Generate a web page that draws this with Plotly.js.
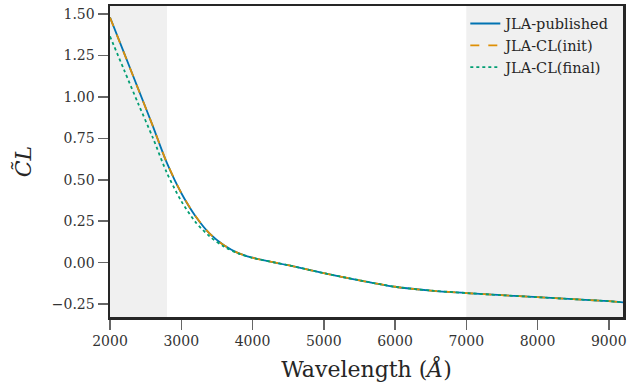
<!DOCTYPE html>
<html>
<head>
<meta charset="utf-8">
<script src="https://cdn.plot.ly/plotly-3.0.1.min.js"></script>
<style>html,body{margin:0;padding:0;background:#fff;}#chart{width:644px;height:387px;}</style>
</head>
<body>
<div id="chart"></div>
<script>
const wavelength = [2000, 2200, 2400, 2600, 2800, 3000, 3200, 3400, 3600, 3800, 4000, 4500, 5000, 5500, 6000, 6500, 7000, 7500, 8000, 8500, 9000, 9200];
const jlaPublished = [1.48, 1.262, 1.044, 0.825, 0.60, 0.42, 0.28, 0.175, 0.105, 0.058, 0.030, -0.015, -0.063, -0.106, -0.145, -0.168, -0.183, -0.196, -0.208, -0.220, -0.232, -0.239];
const jlaClInit = [1.478, 1.261, 1.043, 0.825, 0.601, 0.421, 0.281, 0.175, 0.105, 0.058, 0.030, -0.015, -0.063, -0.106, -0.145, -0.168, -0.183, -0.196, -0.208, -0.220, -0.232, -0.239];
const jlaClFinal = [1.365, 1.16, 0.955, 0.755, 0.54, 0.372, 0.245, 0.158, 0.097, 0.056, 0.029, -0.015, -0.063, -0.106, -0.145, -0.168, -0.183, -0.196, -0.208, -0.220, -0.232, -0.239];
const seriesNames = ['JLA-published', 'JLA-CL(init)', 'JLA-CL(final)'];
const shadedRanges = [[2000, 2800], [7000, 9200]];
const xTicks = [2000, 3000, 4000, 5000, 6000, 7000, 8000, 9000];
const yTicks = [-0.25, 0, 0.25, 0.5, 0.75, 1.0, 1.25, 1.5];

const serif = 'DejaVu Serif, serif';
const traces = [
  {x: wavelength, y: jlaPublished, name: seriesNames[0], mode: 'lines', line: {color: '#0173b2', width: 1.8, shape: 'spline', smoothing: 0.8}},
  {x: wavelength, y: jlaClInit, name: seriesNames[1], mode: 'lines', line: {color: '#de8f05', width: 1.8, dash: 'dash', shape: 'spline', smoothing: 0.8}},
  {x: wavelength, y: jlaClFinal, name: seriesNames[2], mode: 'lines', line: {color: '#029e73', width: 1.8, dash: 'dot', shape: 'spline', smoothing: 0.8}}
];
const shapes = shadedRanges.map(r => ({type: 'rect', xref: 'x', yref: 'paper', x0: r[0], x1: r[1], y0: 0, y1: 1, fillcolor: '#f0f0f0', line: {width: 0}, layer: 'below'}));
const layout = {
  width: 644, height: 387,
  margin: {l: 110, r: 21, t: 6, b: 70},
  paper_bgcolor: '#fff', plot_bgcolor: '#fff',
  font: {family: serif, color: '#262626', size: 14},
  showlegend: true,
  legend: {x: 0.985, y: 0.995, xanchor: 'right', yanchor: 'top', bgcolor: 'rgba(0,0,0,0)', font: {family: serif, size: 14.5, color: '#262626'}, tracegroupgap: 0},
  shapes: shapes,
  xaxis: {
    range: [2000, 9200], tickvals: xTicks, ticktext: xTicks.map(String),
    showgrid: false, zeroline: false, showline: true, linecolor: '#262626', linewidth: 2.5, mirror: true,
    ticks: 'outside', ticklen: 10, tickwidth: 1.5, tickcolor: '#666',
    tickfont: {family: serif, size: 14, color: '#333'},
    title: {text: 'Wavelength (<i>Å</i>)', font: {family: serif, size: 22, color: '#262626'}, standoff: 14}
  },
  yaxis: {
    range: [-0.3275, 1.548], tickvals: yTicks, ticktext: yTicks.map(v => v.toFixed(2).replace('-', '−')),
    showgrid: false, zeroline: false, showline: true, linecolor: '#262626', linewidth: 2.5, mirror: true,
    ticks: 'outside', ticklen: 10, tickwidth: 1.5, tickcolor: '#666',
    tickfont: {family: serif, size: 14, color: '#333'},
    title: {text: '<i>C̃L</i>', font: {family: serif, size: 22, color: '#262626'}, standoff: 14}
  }
};
Plotly.newPlot('chart', traces, layout, {displayModeBar: false, staticPlot: true});
</script>
</body>
</html>
